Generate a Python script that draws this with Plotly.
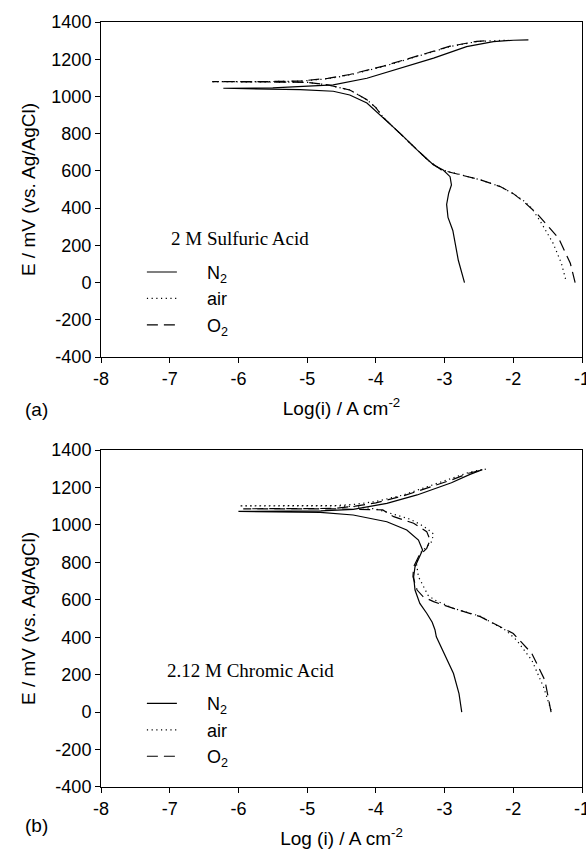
import plotly.graph_objects as go
from plotly.subplots import make_subplots

# ---------------- (a) 2 M sulfuric acid ----------------
# cathodic branches listed from E_corr downward, anodic from E_corr upward
sul_n2_cath_logi = [-6.22, -5.60, -5.10, -4.62, -4.38, -4.13, -3.89, -3.65, -3.40, -3.16,
                    -3.02, -2.92, -2.90, -2.94, -2.97, -2.95, -2.88, -2.84, -2.80, -2.76, -2.71]
sul_n2_cath_e = [1040, 1040, 1037, 1028, 1008, 965, 886, 803, 713, 632,
                 605, 569, 525, 480, 420, 350, 280, 200, 120, 60, 0]
sul_n2_anod_logi = [-6.22, -5.50, -5.10, -4.62, -4.13, -3.65, -3.16, -2.68, -2.29, -2.00, -1.78]
sul_n2_anod_e = [1044, 1046, 1053, 1062, 1098, 1152, 1206, 1268, 1295, 1302, 1304]

sul_air_cath_logi = [-6.40, -5.50, -5.00, -4.70, -4.38, -4.13, -4.00, -3.89, -3.65, -3.40, -3.22,
                     -3.05, -2.92, -2.48, -2.19, -2.00, -1.85, -1.73, -1.59, -1.42, -1.30, -1.24]
sul_air_cath_e = [1078, 1078, 1076, 1062, 1035, 982, 940, 886, 802, 712, 650,
                  607, 593, 552, 516, 478, 440, 399, 319, 211, 104, 20]
sul_air_anod_logi = [-6.40, -5.60, -5.10, -4.70, -4.38, -3.89, -3.40, -2.92, -2.53, -2.30, -2.12]
sul_air_anod_e = [1080, 1080, 1082, 1095, 1116, 1161, 1214, 1268, 1295, 1300, 1302]

sul_o2_cath_logi = [-6.38, -5.50, -5.00, -4.70, -4.38, -4.13, -4.00, -3.89, -3.65, -3.40, -3.22,
                    -3.05, -2.92, -2.48, -2.19, -2.00, -1.85, -1.66, -1.50, -1.34, -1.17, -1.10]
sul_o2_cath_e = [1078, 1078, 1076, 1062, 1035, 982, 940, 886, 802, 712, 650,
                 607, 593, 552, 516, 478, 435, 373, 305, 238, 104, 0]
sul_o2_anod_logi = [-6.38, -5.60, -5.10, -4.70, -4.38, -3.89, -3.40, -2.92, -2.53, -2.35]
sul_o2_anod_e = [1080, 1080, 1083, 1097, 1118, 1163, 1216, 1270, 1296, 1300]

# ---------------- (b) 2.12 M chromic acid ----------------
chr_n2_cath_logi = [-6.00, -4.81, -4.33, -3.84, -3.55, -3.38, -3.32, -3.36, -3.43, -3.45, -3.43,
                    -3.36, -3.26, -3.18, -3.14, -3.12, -3.01, -2.87, -2.79, -2.75]
chr_n2_cath_e = [1068, 1067, 1053, 1017, 973, 919, 866, 830, 777, 723, 652,
                 581, 528, 480, 440, 402, 313, 206, 99, 0]
chr_n2_anod_logi = [-6.00, -4.80, -4.33, -3.84, -3.40, -2.90, -2.63, -2.45]
chr_n2_anod_e = [1072, 1075, 1083, 1115, 1160, 1225, 1270, 1295]

chr_air_cath_logi = [-5.99, -4.60, -4.30, -4.00, -3.79, -3.65, -3.50, -3.36, -3.26, -3.16, -3.19,
                     -3.27, -3.36, -3.41, -3.38, -3.31, -3.24, -3.14, -2.87, -2.48, -2.38, -2.11,
                     -1.95, -1.73, -1.56, -1.45]
chr_air_cath_e = [1102, 1102, 1098, 1085, 1062, 1047, 1030, 1004, 981, 951, 910,
                  880, 848, 795, 723, 670, 624, 598, 554, 512, 491, 437,
                  384, 277, 134, 10]
chr_air_anod_logi = [-5.99, -4.60, -4.30, -4.00, -3.60, -3.20, -2.90, -2.65, -2.42]
chr_air_anod_e = [1102, 1103, 1110, 1125, 1160, 1210, 1245, 1280, 1298]

chr_o2_cath_logi = [-5.93, -4.60, -3.90, -3.74, -3.45, -3.26, -3.21, -3.26, -3.38, -3.45, -3.46,
                    -3.40, -3.31, -3.16, -2.87, -2.48, -2.38, -2.00, -1.73, -1.54, -1.48, -1.45]
chr_o2_cath_e = [1086, 1086, 1080, 1044, 1009, 964, 919, 875, 830, 777, 723,
                 652, 616, 590, 554, 510, 491, 420, 313, 170, 63, 0]
chr_o2_anod_logi = [-5.93, -4.60, -4.30, -4.00, -3.60, -3.20, -2.90, -2.65, -2.40]
chr_o2_anod_e = [1086, 1088, 1100, 1118, 1155, 1203, 1240, 1276, 1298]

gas_names = ["N<sub>2</sub>", "air", "O<sub>2</sub>"]
gas_dash = ["solid", "1.2px,3.5px", "11px,6px"]

x_ticks = [-8, -7, -6, -5, -4, -3, -2, -1]
y_ticks = [-400, -200, 0, 200, 400, 600, 800, 1000, 1200, 1400]

SANS = "Liberation Sans, Arial, sans-serif"
SERIF = "Liberation Serif, Times New Roman, serif"
LEGEND_PAD = "\u00a0" * 5


def sweep(cath_logi, cath_e, anod_logi, anod_e):
    """Join the cathodic branch (traced from 0 mV up to E_corr) with the anodic branch."""
    return cath_logi[::-1] + anod_logi, cath_e[::-1] + anod_e


panels = [
    [(sul_n2_cath_logi, sul_n2_cath_e, sul_n2_anod_logi, sul_n2_anod_e),
     (sul_air_cath_logi, sul_air_cath_e, sul_air_anod_logi, sul_air_anod_e),
     (sul_o2_cath_logi, sul_o2_cath_e, sul_o2_anod_logi, sul_o2_anod_e)],
    [(chr_n2_cath_logi, chr_n2_cath_e, chr_n2_anod_logi, chr_n2_anod_e),
     (chr_air_cath_logi, chr_air_cath_e, chr_air_anod_logi, chr_air_anod_e),
     (chr_o2_cath_logi, chr_o2_cath_e, chr_o2_anod_logi, chr_o2_anod_e)],
]

fig = make_subplots(rows=2, cols=1, vertical_spacing=0.12)

for row, series in enumerate(panels, start=1):
    legend_id = "legend" if row == 1 else "legend2"
    for name, dash, branches in zip(gas_names, gas_dash, series):
        xs, ys = sweep(*branches)
        fig.add_trace(
            go.Scatter(x=xs, y=ys, mode="lines", name=LEGEND_PAD + name,
                       line=dict(color="black", width=1.2, dash=dash),
                       legend=legend_id),
            row=row, col=1)

axis_common = dict(
    showline=True, linecolor="black", linewidth=1, mirror=True,
    ticks="outside", ticklen=5, tickcolor="black", tickwidth=1,
    showgrid=False, zeroline=False, ticklabeloverflow="allow", automargin=False,
    tickfont=dict(family=SANS, size=18, color="black"),
)

fig.update_xaxes(range=[-8, -1], tickvals=x_ticks, ticktext=[str(v) for v in x_ticks],
                 **axis_common)
fig.update_yaxes(range=[-400, 1400], tickvals=y_ticks, ticktext=[str(v) for v in y_ticks],
                 **axis_common)

fig.update_xaxes(title=dict(text="Log(i) / A cm<sup>-2</sup>", standoff=14,
                            font=dict(family=SANS, size=19, color="black")), row=1, col=1)
fig.update_xaxes(title=dict(text="Log (i) / A cm<sup>-2</sup>", standoff=14,
                            font=dict(family=SANS, size=19, color="black")), row=2, col=1)
fig.update_yaxes(title=dict(text="E / mV (vs. Ag/AgCl)", standoff=10,
                            font=dict(family=SANS, size=19, color="black")))

fig.update_layout(
    width=586, height=849,
    margin=dict(l=101, r=4, t=22, b=62),
    paper_bgcolor="white", plot_bgcolor="white",
    xaxis=dict(domain=[0, 1]), yaxis=dict(domain=[0.562, 1.0]),
    xaxis2=dict(domain=[0, 1]), yaxis2=dict(domain=[0.0, 0.4405]),
    legend=dict(x=0.085, y=0.697, xanchor="left", yanchor="top",
                bgcolor="rgba(0,0,0,0)", itemwidth=30, tracegroupgap=0,
                font=dict(family=SANS, size=18, color="black")),
    legend2=dict(x=0.085, y=0.133, xanchor="left", yanchor="top",
                 bgcolor="rgba(0,0,0,0)", itemwidth=30, tracegroupgap=0,
                 font=dict(family=SANS, size=18, color="black")),
    annotations=[
        dict(text="2 M Sulfuric Acid", x=-5.97, y=237, xref="x", yref="y",
             showarrow=False, font=dict(family=SERIF, size=19, color="black")),
        dict(text="2.12 M Chromic Acid", x=-5.83, y=224, xref="x2", yref="y2",
             showarrow=False, font=dict(family=SERIF, size=19, color="black")),
        dict(text="(a)", x=-0.162, y=0.493, xref="paper", yref="paper",
             showarrow=False, font=dict(family=SANS, size=19, color="black")),
        dict(text="(b)", x=-0.162, y=-0.0667, xref="paper", yref="paper",
             showarrow=False, font=dict(family=SANS, size=19, color="black")),
    ],
)

fig.write_html("out.html")
